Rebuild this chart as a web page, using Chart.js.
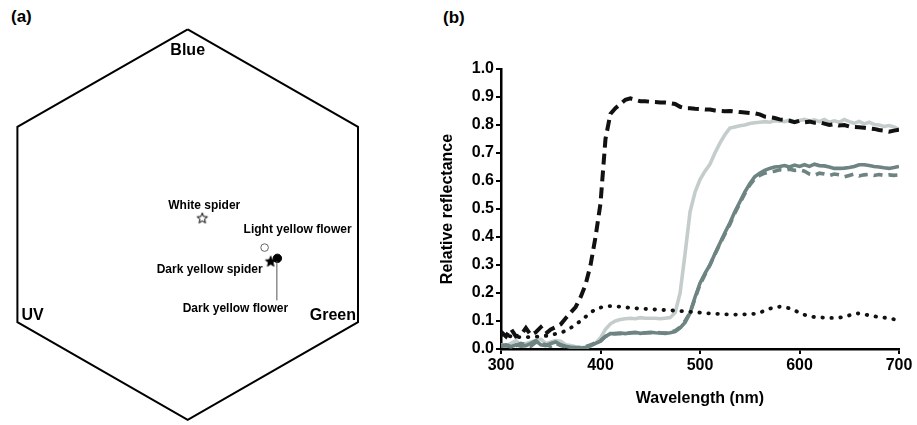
<!DOCTYPE html>
<html>
<head>
<meta charset="utf-8">
<script src="https://cdn.jsdelivr.net/npm/chart.js@4.4.1/dist/chart.umd.min.js"></script>
<style>
  body { margin: 0; width: 917px; height: 425px; background: #fff; position: relative; overflow: hidden; }
  canvas { position: absolute; top: 0; }
  #hexCanvas { left: 0; }
  #specCanvas { left: 420px; }
  .panel { position: absolute; font: bold 17px 'Liberation Sans', Arial, sans-serif; color: #000; line-height: 1; }
</style>
</head>
<body>
<div class="panel" style="left:11px;top:8px">(a)</div>
<div class="panel" style="left:443px;top:9px">(b)</div>
<canvas id="hexCanvas" width="380" height="425"></canvas>
<canvas id="specCanvas" width="497" height="425"></canvas>
<script>
// panel (a): colour hexagon
const hexX = [0, 0.866, 0.866, 0, -0.866, -0.866, 0]
const hexY = [1, 0.5, -0.5, -1, -0.5, 0.5, 1]
const pointNames = ['White spider', 'Light yellow flower', 'Dark yellow spider', 'Dark yellow flower']
const pointX = [0.074, 0.391, 0.422, 0.456]
const pointY = [0.031, -0.118, -0.19, -0.173]

// panel (b): reflectance spectra
const wavelengths = [300,305,310,315,320,325,330,335,340,345,350,355,360,365,370,375,380,385,390,395,
  400,405,410,415,420,425,430,435,440,445,450,455,460,465,470,475,480,485,490,495,
  500,505,510,515,520,525,530,535,540,545,550,555,560,565,570,575,580,585,590,595,
  600,605,610,615,620,625,630,635,640,645,650,655,660,665,670,675,680,685,690,695,700]
const whiteSpider = [.062,.045,.072,.045,.05,.075,.05,.06,.078,.055,.07,.078,.088,.11,.13,.15,.185,.23,.3,.4,
  .52,.75,.84,.86,.875,.89,.895,.89,.885,.885,.883,.882,.88,.88,.878,.875,.865,.86,.86,.858,
  .857,.855,.855,.852,.85,.849,.85,.848,.846,.845,.843,.842,.838,.83,.828,.825,.82,.818,.815,.81,
  .815,.81,.812,.808,.81,.805,.8,.803,.798,.8,.795,.793,.792,.79,.788,.786,.782,.78,.776,.78,.783]
const lightFlower = [.015,.012,.02,.03,.015,.02,.025,.03,.035,.02,.025,.03,.028,.015,.012,.008,.006,.005,.01,.02,
  .04,.07,.09,.1,.105,.108,.11,.108,.112,.11,.11,.11,.108,.11,.112,.13,.2,.34,.49,.56,
  .605,.635,.66,.7,.735,.765,.789,.793,.797,.8,.805,.808,.81,.812,.81,.815,.814,.812,.818,.812,
  .816,.82,.814,.818,.812,.82,.81,.815,.81,.82,.812,.806,.813,.804,.81,.802,.8,.795,.798,.793,.785]
const darkFlower = [.01,.012,.008,.015,.01,.012,.02,.03,.015,.012,.02,.025,.015,.01,.006,.005,.003,.005,.012,.02,
  .028,.045,.055,.055,.057,.055,.058,.06,.056,.058,.06,.058,.057,.056,.058,.062,.075,.095,.128,.185,
  .235,.27,.3,.34,.378,.415,.45,.49,.525,.56,.59,.615,.628,.638,.645,.65,.652,.655,.65,.657,
  .652,.658,.652,.66,.655,.654,.65,.645,.645,.646,.648,.652,.658,.658,.655,.652,.65,.647,.645,.648,.652]
const darkSpider = [.012,.015,.01,.012,.02,.015,.01,.025,.02,.015,.01,.02,.012,.008,.005,.004,.005,.008,.015,.022,
  .03,.045,.052,.055,.055,.056,.057,.058,.058,.057,.058,.06,.058,.057,.06,.065,.078,.1,.13,.18,
  .23,.265,.3,.338,.375,.41,.445,.485,.52,.555,.585,.608,.62,.628,.632,.635,.64,.638,.642,.638,
  .64,.635,.625,.62,.628,.625,.62,.625,.622,.615,.62,.625,.618,.622,.624,.62,.623,.62,.622,.62,.622]
const background = [.05,.048,.045,.043,.042,.042,.043,.044,.045,.047,.05,.054,.058,.065,.075,.088,.1,.115,.13,.142,
  .148,.152,.153,.152,.151,.149,.147,.145,.144,.143,.142,.141,.14,.139,.138,.137,.136,.134,.133,.132,
  .13,.128,.127,.126,.125,.124,.124,.123,.123,.124,.124,.126,.13,.137,.144,.149,.151,.15,.145,.138,
  .13,.122,.117,.114,.113,.112,.111,.111,.112,.115,.12,.126,.127,.124,.12,.117,.114,.112,.11,.106,.1]

const FONT = "'Liberation Sans', Arial, sans-serif"
Chart.defaults.font.family = FONT
Chart.defaults.color = '#000'

function makeStar(fill) {
  const c = document.createElement('canvas')
  c.width = 14
  c.height = 14
  const g = c.getContext('2d')
  g.beginPath()
  for (let i = 0; i < 10; i++) {
    const r = i % 2 === 0 ? 5.5 : 2.4
    const a = -Math.PI / 2 + i * Math.PI / 5
    const px = 7 + r * Math.cos(a), py = 7 + r * Math.sin(a)
    i === 0 ? g.moveTo(px, py) : g.lineTo(px, py)
  }
  g.closePath()
  g.fillStyle = fill
  g.fill()
  g.strokeStyle = '#000'
  g.lineWidth = 1
  g.stroke()
  return c
}

const xy = (xs, ys) => xs.map((x, i) => ({ x: x, y: ys[i] }))
const pt = i => [{ x: pointX[i], y: pointY[i] }]

const hexLabels = {
  id: 'hexLabels',
  afterDatasetsDraw(chart) {
    const { ctx, scales: { x, y } } = chart
    const px = i => x.getPixelForValue(pointX[i])
    const py = i => y.getPixelForValue(pointY[i])
    ctx.save()
    ctx.fillStyle = '#000'
    ctx.textBaseline = 'middle'

    // corner labels
    ctx.font = 'bold 16px ' + FONT
    ctx.textAlign = 'center'
    ctx.fillText('Blue', x.getPixelForValue(hexX[0]), y.getPixelForValue(hexY[0]) + 21)
    ctx.textAlign = 'left'
    ctx.fillText('UV', x.getPixelForValue(hexX[4]) + 4, y.getPixelForValue(hexY[4]) - 7)
    ctx.textAlign = 'right'
    ctx.fillText('Green', x.getPixelForValue(hexX[2]) - 2, y.getPixelForValue(hexY[2]) - 7)

    // leader line for dark yellow flower
    ctx.strokeStyle = '#555'
    ctx.lineWidth = 1
    ctx.beginPath()
    ctx.moveTo(px(3) - 0.5, py(3) + 3)
    ctx.lineTo(px(3) - 0.5, py(3) + 42)
    ctx.stroke()

    // point labels
    ctx.font = 'bold 12px ' + FONT
    ctx.textAlign = 'center'
    ctx.fillText(pointNames[0], px(0) + 2, py(0) - 13)
    ctx.fillText(pointNames[1], px(1) + 33, py(1) - 18)
    ctx.textAlign = 'right'
    ctx.fillText(pointNames[2], px(2) - 8, py(2) + 8)
    ctx.textAlign = 'center'
    ctx.fillText(pointNames[3], px(3) - 42, py(3) + 50)
    ctx.restore()
  }
}

new Chart(document.getElementById('hexCanvas'), {
  type: 'scatter',
  data: {
    datasets: [
      { data: pt(3), pointStyle: 'circle', pointRadius: 4.2, backgroundColor: '#000', borderColor: '#000', borderWidth: 1 },
      { data: pt(2), pointStyle: makeStar('#000') },
      { data: pt(1), pointStyle: 'circle', pointRadius: 3.8, backgroundColor: '#fff', borderColor: '#666', borderWidth: 1 },
      { data: pt(0), pointStyle: makeStar('#fff') },
      { data: xy(hexX, hexY), showLine: true, pointRadius: 0, borderColor: '#000', borderWidth: 2, clip: false }
    ]
  },
  options: {
    responsive: false,
    animation: false,
    events: [],
    layout: { padding: { left: 17.4, right: 22, top: 29.3, bottom: 2.3 } },
    scales: {
      x: { type: 'linear', min: -0.866, max: 0.866, display: false },
      y: { type: 'linear', min: -1, max: 1, display: false }
    },
    plugins: { legend: { display: false }, tooltip: { enabled: false } }
  },
  plugins: [hexLabels]
})

new Chart(document.getElementById('specCanvas'), {
  type: 'scatter',
  data: {
    datasets: [
      {
        label: 'White spider',
        data: xy(wavelengths, whiteSpider),
        showLine: true, pointRadius: 0,
        borderColor: '#111', borderWidth: 4, borderDash: [11, 6]
      },
      {
        label: 'Background',
        data: xy(wavelengths, background),
        showLine: true, pointRadius: 0,
        borderColor: '#111', borderWidth: 3.8, borderDash: [0.5, 8.5], borderCapStyle: 'round'
      },
      {
        label: 'Dark yellow flower',
        data: xy(wavelengths, darkFlower),
        showLine: true, pointRadius: 0,
        borderColor: '#6d8482', borderWidth: 3.6
      },
      {
        label: 'Dark yellow spider',
        data: xy(wavelengths, darkSpider),
        showLine: true, pointRadius: 0,
        borderColor: '#6d8482', borderWidth: 3.6, borderDash: [9, 6]
      },
      {
        label: 'Light yellow flower',
        data: xy(wavelengths, lightFlower),
        showLine: true, pointRadius: 0,
        borderColor: '#c5cdcc', borderWidth: 3.6
      }
    ]
  },
  options: {
    responsive: false,
    animation: false,
    events: [],
    layout: { padding: { left: 14, right: 18, top: 69, bottom: 13 } },
    scales: {
      x: {
        type: 'linear', min: 300, max: 700,
        afterFit: s => { s.height = 63 },
        ticks: { stepSize: 100, padding: 2, font: { size: 16, weight: 'bold' }, color: '#000' },
        grid: { drawOnChartArea: false, drawTicks: true, tickLength: 5, color: '#000', lineWidth: 2 },
        border: { display: true, color: '#000', width: 2.5 },
        title: { display: true, text: 'Wavelength (nm)', font: { size: 16, weight: 'bold' }, color: '#000' }
      },
      y: {
        type: 'linear', min: 0, max: 1,
        afterFit: s => { s.width = 67 },
        ticks: { stepSize: 0.1, padding: 2, font: { size: 16, weight: 'bold' }, color: '#000',
          callback: v => v.toFixed(1) },
        grid: { drawOnChartArea: false, drawTicks: true, tickLength: 5, color: '#000', lineWidth: 2 },
        border: { display: true, color: '#000', width: 2.5 },
        title: { display: true, text: 'Relative reflectance', font: { size: 16, weight: 'bold' }, color: '#000' }
      }
    },
    plugins: { legend: { display: false }, tooltip: { enabled: false } }
  }
})
</script>
</body>
</html>
